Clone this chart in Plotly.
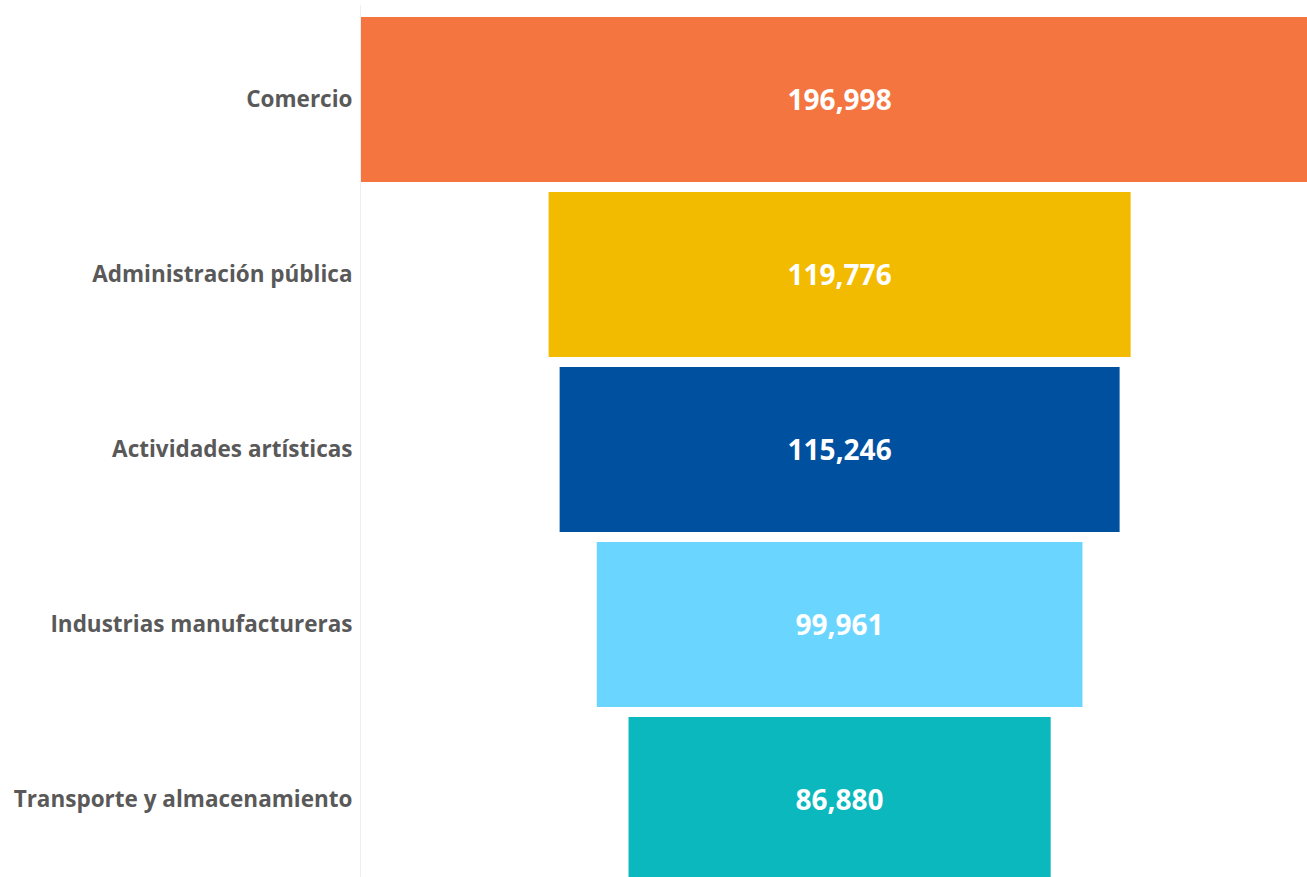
import plotly.graph_objects as go

categories = ["Comercio", "Administración pública", "Actividades artísticas",
              "Industrias manufactureras", "Transporte y almacenamiento"]
values = [196998, 119776, 115246, 99961, 86880]
colors = ["#F47540", "#F2BB00", "#0050A0", "#6AD6FF", "#0AB8BE"]

fig = go.Figure(go.Funnel(
    y=categories,
    x=values,
    marker=dict(color=colors, line=dict(width=0)),
    connector=dict(visible=False),
    texttemplate="%{x:,}",
    textposition="inside",
    insidetextanchor="middle",
    textfont=dict(family="Open Sans", size=28, color="white", weight="bold"),
    constraintext="none",
    hoverinfo="skip",
))

half = values[0] / 2
scale = 582 / values[1]
right = -half + 946 / scale

fig.update_layout(
    width=1307, height=877,
    margin=dict(l=361, r=0, t=5, b=0),
    paper_bgcolor="white", plot_bgcolor="white",
    funnelgap=10 / 175,
    showlegend=False,
    xaxis=dict(range=[-half, right], visible=False, fixedrange=True),
    yaxis=dict(
        range=[4.443, -0.54], autorange=False,
        showline=True, linecolor="#EEEEEE", linewidth=1,
        showgrid=False, zeroline=False, fixedrange=True,
        ticks="outside", ticklen=3, tickcolor="rgba(0,0,0,0)",
        tickfont=dict(family="Open Sans", size=22.5, color="#595959", weight="bold"),
    ),
)

fig.write_html(
    "out.html",
    config={"displayModeBar": False, "staticPlot": True},
    post_script="document.body.style.margin='0';document.body.style.overflow='hidden';",
)
